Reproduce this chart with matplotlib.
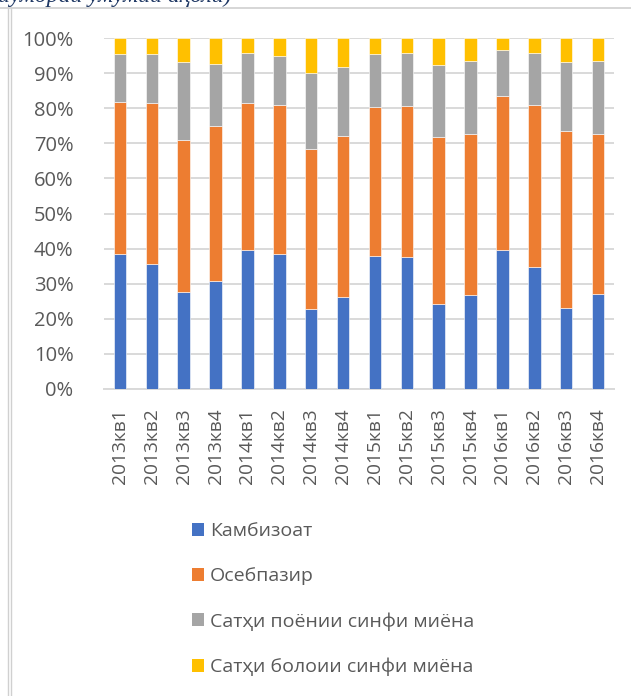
import numpy as np
import matplotlib
matplotlib.use('Agg')
import matplotlib.pyplot as plt
from matplotlib.lines import Line2D
from matplotlib.patches import Patch

plt.rcParams['font.family'] = ['Open Sans', 'Noto Sans', 'DejaVu Sans']

quarters = ['2013кв1', '2013кв2', '2013кв3', '2013кв4',
            '2014кв1', '2014кв2', '2014кв3', '2014кв4',
            '2015кв1', '2015кв2', '2015кв3', '2015кв4',
            '2016кв1', '2016кв2', '2016кв3', '2016кв4']

# shares in percent
kambizoat = [38.4, 35.7, 27.6, 30.9, 39.7, 38.5, 22.9, 26.1,
             38.0, 37.7, 24.3, 26.9, 39.7, 34.9, 23.0, 27.1]
osebpazir = [43.3, 45.7, 43.3, 44.1, 41.7, 42.3, 45.5, 46.0,
             42.4, 43.0, 47.5, 45.7, 43.7, 46.0, 50.5, 45.5]
poyon = [13.7, 14.0, 22.2, 17.5, 14.2, 14.2, 21.5, 19.5,
         14.9, 15.1, 20.5, 20.8, 13.2, 14.8, 19.6, 20.9]
boloi = [4.6, 4.6, 6.9, 7.5, 4.4, 5.0, 10.1, 8.4,
         4.7, 4.2, 7.7, 6.6, 3.4, 4.3, 6.9, 6.5]

series_names = ['Камбизоат', 'Осебпазир',
                'Сатҳи поёнии синфи миёна', 'Сатҳи болоии синфи миёна']
colors = ['#4472c4', '#ed7d31', '#a5a5a5', '#ffc000']

W, H = 631, 696
fig = plt.figure(figsize=(W / 100, H / 100), dpi=100)
ax = fig.add_axes([104 / W, 1 - 389 / H, (614 - 104) / W, (389 - 38) / H])

x = np.arange(len(quarters))
bottom = np.zeros(len(quarters))
for vals, name, c in zip([kambizoat, osebpazir, poyon, boloi], series_names, colors):
    vals = np.array(vals)
    ax.bar(x, vals, 0.39, bottom=bottom, color=c, label=name,
           edgecolor='white', linewidth=0.4, zorder=3)
    bottom += vals

ax.set_xlim(-0.5, len(quarters) - 0.5)
ax.set_ylim(0, 100)
ax.set_yticks(np.arange(0, 101, 10))
ax.set_yticklabels([f'{v}%' for v in range(0, 101, 10)])
ax.set_xticks(x)
ax.set_xticklabels(quarters, rotation=90)
ax.tick_params(axis='both', length=0, colors='#595959')
ax.tick_params(axis='y', pad=22, labelsize=14.5)
ax.tick_params(axis='x', pad=14, labelsize=13.8)
ax.grid(axis='y', color='#d9d9d9', linewidth=1.4, zorder=0)
for s in ['top', 'right', 'left']:
    ax.spines[s].set_visible(False)
ax.spines['bottom'].set_color('#d9d9d9')
ax.spines['bottom'].set_linewidth(1.4)

handles = [Patch(facecolor=c) for c in colors]
fig.legend(handles, series_names, loc='upper left',
           bbox_to_anchor=(174 / W, 1 - 505 / H), frameon=False,
           fontsize=14, labelcolor='#595959', handlelength=0.65,
           handleheight=0.65, handletextpad=0.3, labelspacing=1.38)

# window frame and clipped caption at the top
fig.add_artist(Line2D([0, 1], [1 - 8 / H, 1 - 8 / H], color='#d0d0d0', lw=1.2))
fig.add_artist(Line2D([8 / W, 8 / W], [0, 1 - 8 / H], color='#d0d0d0', lw=1.0))
fig.add_artist(Line2D([11 / W, 11 / W], [0, 1 - 8 / H], color='#d0d0d0', lw=1.0))
fig.text(-8 / W, 1 - 2 / H, 'шумораи умумии аҳолӣ)', family='Liberation Serif',
         style='italic', fontsize=17, color='#1f3864', va='baseline')

fig.savefig('out.png', dpi=100)
